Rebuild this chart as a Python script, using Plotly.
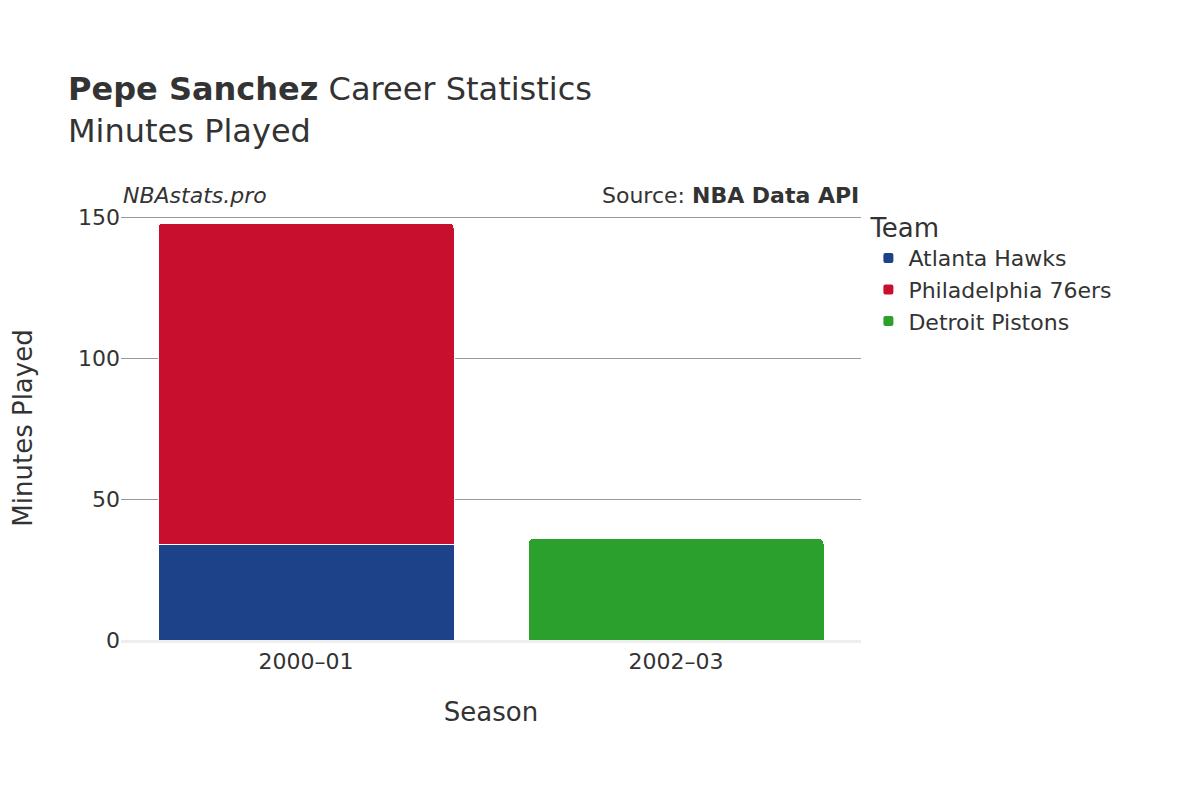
import plotly.graph_objects as go

seasons = ["2000–01", "2002–03"]
teams = ["Atlanta Hawks", "Philadelphia 76ers", "Detroit Pistons"]
colors = ["#1d428a", "#c8102e", "#2ca02c"]
minutes = {
    "Atlanta Hawks": [34, None],
    "Philadelphia 76ers": [114, None],
    "Detroit Pistons": [None, 36],
}

fig = go.Figure()
for team, color in zip(teams, colors):
    fig.add_trace(go.Bar(
        x=seasons, y=minutes[team], name=team,
        marker=dict(color=color, line=dict(color="white", width=1)),
    ))

fig.update_layout(
    barmode="stack",
    barcornerradius=5,
    width=1200, height=800,
    font=dict(family="DejaVu Sans", size=22, color="#333"),
    plot_bgcolor="white", paper_bgcolor="white",
    title=dict(text="<b>Pepe Sanchez</b> Career Statistics<br>Minutes Played",
               x=0.05, y=0.885, font=dict(size=32)),
    margin=dict(l=98, r=347, t=208, b=168),
    legend=dict(title=dict(text="Team", font=dict(size=26)), x=1.01, y=1.03,
                traceorder="normal", font=dict(size=22), itemsizing="constant"),
    xaxis=dict(title=dict(text="Season", font=dict(size=26), standoff=30),
               showline=True, linecolor="#eee", linewidth=3),
    yaxis=dict(title=dict(text="Minutes Played", font=dict(size=26), standoff=40),
               range=[0, 150.5], tickvals=[0, 50, 100, 150],
               gridcolor="#999", zeroline=False),
    bargap=0.2,
    annotations=[
        dict(text="<i>NBAstats.pro</i>", xref="paper", yref="paper", x=0.0,
             y=1.0, xanchor="left", yanchor="bottom", yshift=6, showarrow=False,
             font=dict(size=22)),
        dict(text="Source: <b>NBA Data API</b>", xref="paper", yref="paper",
             x=1.0, y=1.0, xanchor="right", yanchor="bottom", yshift=6,
             showarrow=False, font=dict(size=22)),
    ],
)

fig.write_html("out.html")
